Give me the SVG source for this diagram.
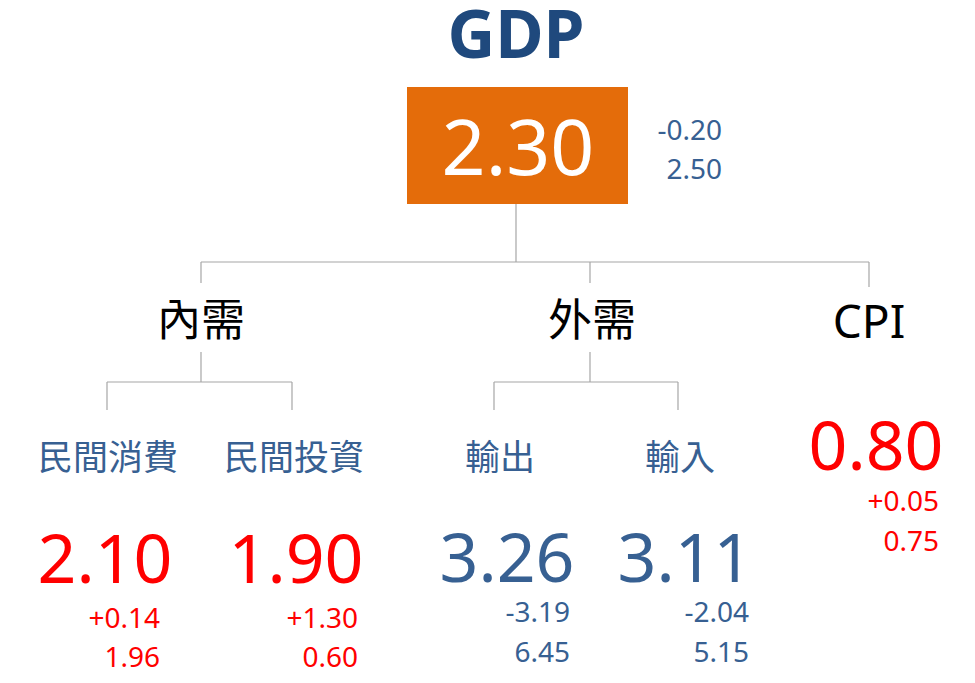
<svg xmlns="http://www.w3.org/2000/svg" width="975" height="683" viewBox="0 0 975 683">
<style>
.t{font-family:"Noto Sans","Open Sans","Noto Sans CJK TC",sans-serif}
.cjk{font-family:"Noto Sans CJK TC","Noto Sans",sans-serif}
.blue{fill:#376092}
.red{fill:#ff0000}
.big{font-size:68px;text-anchor:middle}
.sm{font-size:28px;text-anchor:end}
.lbl{font-size:35px;text-anchor:middle}
.head{font-size:44px;text-anchor:middle;fill:#000}
.conn line{stroke:#a6a6a6;stroke-width:1.2}
</style>
<rect width="975" height="683" fill="#fff"/>
<g id="title"><text class="t" x="516" y="58" font-size="66" font-weight="bold" fill="#1f497d" text-anchor="middle">GDP</text></g>
<g class="conn" id="connectors">
<line x1="516" y1="204" x2="516" y2="262"/>
<line x1="201" y1="262" x2="869" y2="262"/>
<line x1="201" y1="262" x2="201" y2="283"/>
<line x1="590" y1="262" x2="590" y2="283"/>
<line x1="869" y1="262" x2="869" y2="287"/>
<line x1="201" y1="352" x2="201" y2="382"/>
<line x1="107" y1="382" x2="292" y2="382"/>
<line x1="107" y1="382" x2="107" y2="410"/>
<line x1="292" y1="382" x2="292" y2="410"/>
<line x1="590" y1="352" x2="590" y2="382"/>
<line x1="494" y1="382" x2="678" y2="382"/>
<line x1="494" y1="382" x2="494" y2="410"/>
<line x1="678" y1="382" x2="678" y2="410"/>
</g>
<g id="gdp">
<rect x="407" y="87" width="221" height="117" fill="#e46c0a"/>
<text class="t" x="518" y="175" font-size="77" fill="#fff" text-anchor="middle">2.30</text>
<text class="t blue sm" x="722" y="140">-0.20</text>
<text class="t blue sm" x="722" y="179">2.50</text>
</g>
<g id="domestic"><text class="cjk head" x="201" y="336">內需</text></g>
<g id="external"><text class="cjk head" x="592" y="336">外需</text></g>
<g id="cpi">
<text class="t" x="869" y="338" font-size="46" text-anchor="middle" fill="#000">CPI</text>
<text class="t red big" x="876" y="470">0.80</text>
<text class="t red sm" x="939" y="511">+0.05</text>
<text class="t red sm" x="939" y="551">0.75</text>
</g>
<g id="consumption">
<text class="cjk blue lbl" x="108" y="470">民間消費</text>
<text class="t red big" x="105" y="583">2.10</text>
<text class="t red sm" x="160" y="628">+0.14</text>
<text class="t red sm" x="160" y="667">1.96</text>
</g>
<g id="investment">
<text class="cjk blue lbl" x="294" y="470">民間投資</text>
<text class="t red big" x="296" y="583">1.90</text>
<text class="t red sm" x="358" y="628">+1.30</text>
<text class="t red sm" x="358" y="667">0.60</text>
</g>
<g id="exports">
<text class="cjk blue lbl" x="500" y="470">輸出</text>
<text class="t blue big" x="507" y="582">3.26</text>
<text class="t blue sm" x="570" y="622">-3.19</text>
<text class="t blue sm" x="570" y="662">6.45</text>
</g>
<g id="imports">
<text class="cjk blue lbl" x="680" y="470">輸入</text>
<text class="t blue big" x="685" y="582">3.11</text>
<text class="t blue sm" x="749" y="622">-2.04</text>
<text class="t blue sm" x="749" y="662">5.15</text>
</g>
</svg>
